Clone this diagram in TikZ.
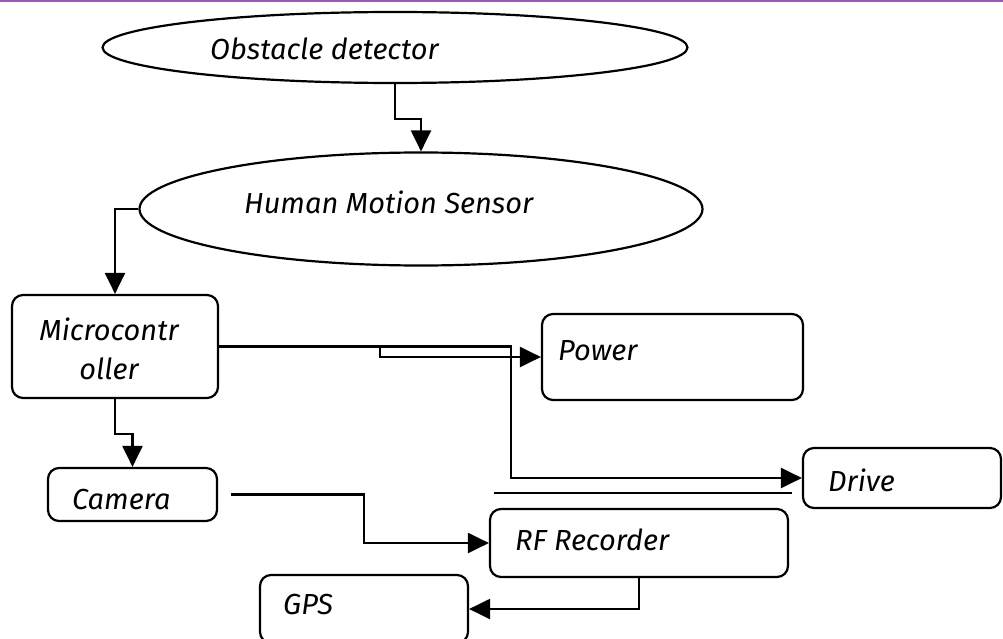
\documentclass[tikz,border=0pt]{standalone}
\usepackage{fontspec}
\setmainfont{Fira Sans}
\usetikzlibrary{shapes.geometric,arrows.meta,calc}
\definecolor{topbar}{RGB}{155,89,182}
\tikzset{
  shapeline/.style={draw=black, line width=2.2pt},
  boxnode/.style={shapeline, rectangle, rounded corners=11pt, inner sep=0pt},
  ellnode/.style={shapeline, ellipse, inner sep=0pt},
  conn/.style={draw=black, line width=2.2pt, -{Triangle[length=21pt,width=20pt]}},
  plainline/.style={draw=black, line width=2.2pt},
  lbl/.style={anchor=base west, inner sep=0pt, font=\fontsize{29}{33}\selectfont\itshape},
  lblc/.style={anchor=base, inner sep=0pt, font=\fontsize{29}{33}\selectfont\itshape}
}
\begin{document}
\begin{tikzpicture}[x=1pt,y=-1pt]
\useasboundingbox (0,0) rectangle (1003,639);
\fill[topbar] (0,0) rectangle (1003,2.5);
% shapes
\node[ellnode, minimum width=585pt, minimum height=71pt] (obs) at (395,47.5) {};
\node[ellnode, minimum width=563pt, minimum height=113pt] (hms) at (421,209) {};
\node[boxnode, minimum width=206pt, minimum height=103pt] (mcu) at (115,346.5) {};
\node[boxnode, minimum width=261pt, minimum height=86pt] (pow) at (672.5,357) {};
\node[boxnode, minimum width=198pt, minimum height=60pt] (drv) at (902,478) {};
\node[boxnode, minimum width=169pt, minimum height=53pt] (cam) at (132.5,494.5) {};
\node[boxnode, minimum width=298pt, minimum height=68pt] (rf) at (639,543) {};
\node[boxnode, minimum width=208pt, minimum height=68pt] (gps) at (364,609) {};
% texts
\node[lbl] (tobs) at (210,60) {Obstacle detector};
\node[lbl] (thms) at (244,213) {Human Motion Sensor};
\node[lblc] (tmcu1) at (109,340) {Microcontr};
\node[lblc] (tmcu2) at (109,379) {oller};
\node[lbl] (tpow) at (558,360) {Power};
\node[lbl] (tdrv) at (828,491) {Drive};
\node[lbl] (tcam) at (72,509) {Camera};
\node[lbl] (trf) at (515,550) {RF Recorder};
\node[lbl] (tgps) at (283,614) {GPS};
% connectors
\draw[conn] (obs.south) -- ++(0,35) -| (hms.north);
\draw[conn] (hms.west) -| (mcu.north);
\draw[conn] (mcu.south) -- ++(0,35) -| (cam.north);
\draw[conn] (mcu.east) -- ++(161,0) -- ++(0,10.5) -- (pow.west);
\draw[conn] (mcu.east) -- ++(292,0) |- (drv.west);
\coordinate (camout) at ($(cam.east)+(13,0)$);
\draw[conn] (camout) -- ++(133,0) |- (rf.west);
\draw[conn] (rf.south) |- (gps.east);
\coordinate (sepa) at (494,493);
\coordinate (sepb) at (792,493);
\draw[plainline] (sepa) -- (sepb);
\end{tikzpicture}
\end{document}
